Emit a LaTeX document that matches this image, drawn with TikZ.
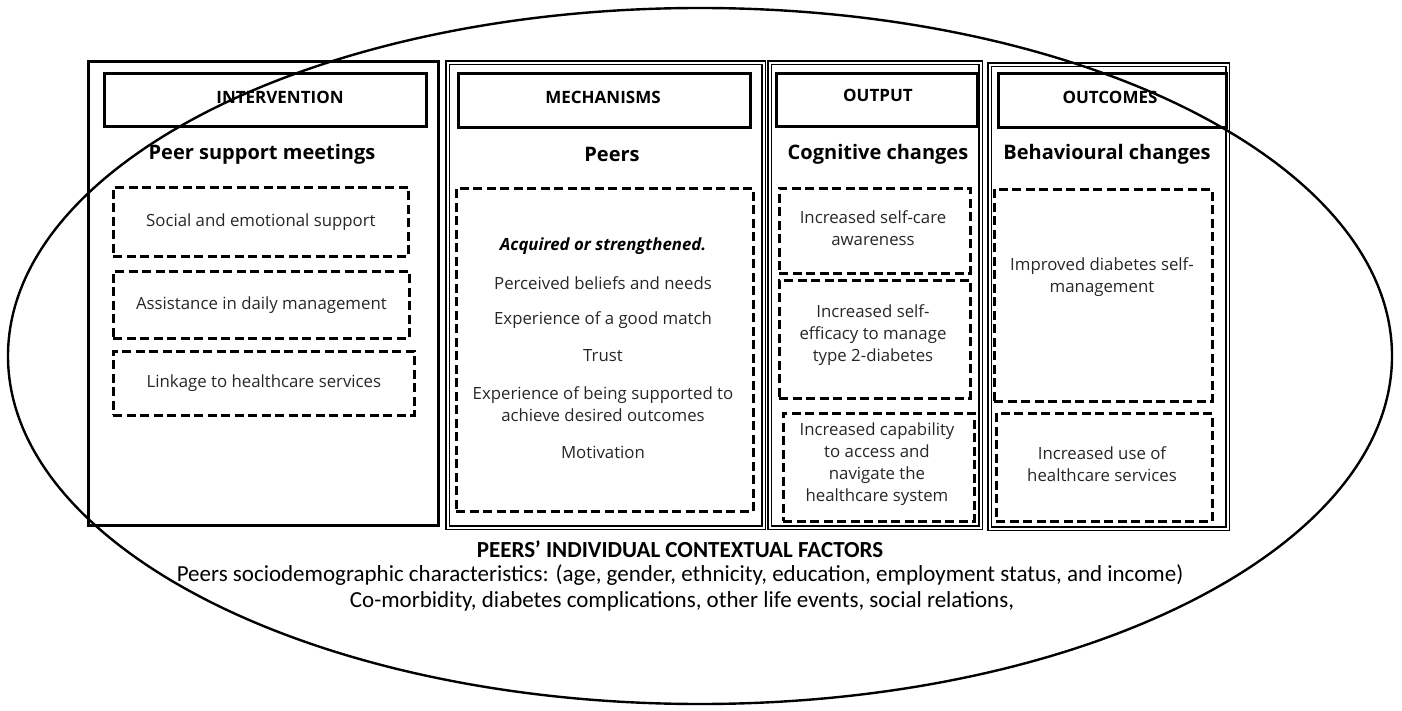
\documentclass[tikz,border=0pt]{standalone}
\usepackage{fontspec}
\setmainfont{Open Sans}
\newfontfamily\calib{Carlito}
\begin{document}
\begin{tikzpicture}[x=1pt,y=-1pt,
  colbox/.style={draw, line width=2.8pt, inner sep=0pt, anchor=north west},
  dcolbox/.style={draw, line width=1.4pt, double, double distance=2pt, inner sep=0pt, anchor=north west},
  hbox/.style={draw, line width=2.8pt, inner sep=0pt, anchor=north west},
  dbox/.style={draw, dashed, dash pattern=on 9pt off 4.5pt, line width=2.8pt, inner sep=0pt, anchor=north west},
  htxt/.style={font=\fontsize{17}{20}\selectfont\bfseries},
  stxt/.style={font=\fontsize{20}{24}\selectfont\bfseries},
  btxt/.style={font=\fontsize{16.8}{22}\selectfont, align=center, text=black!85},
  ftxt/.style={font=\calib\fontsize{23}{26}\selectfont}
]
\useasboundingbox (0,0) rectangle (1402,711);

% ---------- INTERVENTION ----------
\node[colbox, minimum width=350, minimum height=464] (intcol) at (87,60) {};
\node[hbox, minimum width=322, minimum height=53] (inthead) at (103,72) {};
\node[htxt] (inttitle) at (280,97) {INTERVENTION};
\node[stxt] (intsub) at (262,154) {Peer support meetings};
\node[dbox, minimum width=295, minimum height=69] (int1) at (112,186) {};
\node[btxt] (int1t) at (int1.center) {Social and emotional support};
\node[dbox, minimum width=296, minimum height=67] (int2) at (112,270) {};
\node[btxt] (int2t) at (int2.center) {Assistance in daily management};
\node[dbox, minimum width=301, minimum height=64] (int3) at (112,350) {};
\node[btxt] (int3t) at (int3.center) {Linkage to healthcare services};

% ---------- MECHANISMS ----------
\node[dcolbox, minimum width=316, minimum height=465] (meccol) at (447,62) {};
\node[hbox, minimum width=292, minimum height=54] (mechead) at (457,72) {};
\node[htxt] (mectitle) at (603,97) {MECHANISMS};
\node[stxt] (mecsub) at (612,154) {Peers};
\node[dbox, minimum width=297, minimum height=323] (mecbox) at (455,187) {};
\node[btxt, font=\fontsize{16.8}{22}\selectfont\bfseries\itshape, text=black] (mec0) at (603,246) {Acquired or strengthened.};
\node[btxt] (mec1) at (603,283) {Perceived beliefs and needs};
\node[btxt] (mec2) at (603,320) {Experience of a good match};
\node[btxt] (mec3) at (603,356) {Trust};
\node[btxt] (mec4) at (603,404) {Experience of being supported to\\achieve desired outcomes};
\node[btxt] (mec5) at (603,452) {Motivation};

% ---------- OUTPUT ----------
\node[dcolbox, minimum width=211, minimum height=465] (outcol) at (769,62) {};
\node[hbox, minimum width=201, minimum height=53] (outhead) at (775,72) {};
\node[htxt] (outtitle) at (878,95) {OUTPUT};
\node[stxt] (outsub) at (878,154) {Cognitive changes};
\node[dbox, minimum width=191, minimum height=85] (out1) at (778,187) {};
\node[btxt] (out1t) at (873,228) {Increased self-care\\awareness};
\node[dbox, minimum width=191, minimum height=118] (out2) at (778,279) {};
\node[btxt] (out2t) at (873,335) {Increased self-\\efficacy to manage\\type 2-diabetes};
\node[dbox, minimum width=191, minimum height=108] (out3) at (782,412) {};
\node[btxt] (out3t) at (877,464) {Increased capability\\to access and\\navigate the\\healthcare system};

% ---------- OUTCOMES ----------
\node[dcolbox, minimum width=238, minimum height=464] (occol) at (989,64) {};
\node[hbox, minimum width=228, minimum height=54] (ochead) at (997,72) {};
\node[htxt] (octitle) at (1110,97) {OUTCOMES};
\node[stxt] (ocsub) at (1107,154) {Behavioural changes};
\node[dbox, minimum width=218, minimum height=212] (oc1) at (993,188) {};
\node[btxt] (oc1t) at (1102,277) {Improved diabetes self-\\management};
\node[dbox, minimum width=216, minimum height=108] (oc2) at (995,412) {};
\node[btxt] (oc2t) at (1102,464) {Increased use of\\healthcare services};

% ---------- CONTEXT ----------
\node[ftxt, font=\calib\fontsize{23}{26}\selectfont\bfseries] (ctx0) at (680,549) {PEERS’ INDIVIDUAL CONTEXTUAL FACTORS};
\node[ftxt] (ctx1) at (680,575) {Peers sociodemographic characteristics: (age, gender, ethnicity, education, employment status, and income)};
\node[ftxt] (ctx2) at (682,601) {Co-morbidity, diabetes complications, other life events, social relations,};

\draw[line width=2.4pt] (700,356) ellipse [x radius=692pt, y radius=348pt];
\end{tikzpicture}
\end{document}
